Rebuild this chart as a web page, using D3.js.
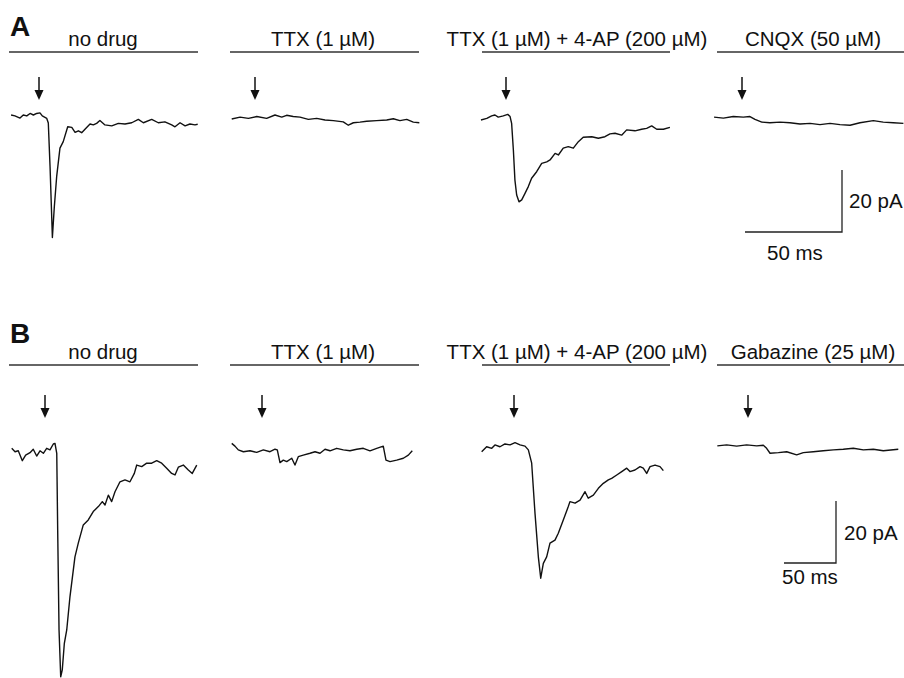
<!DOCTYPE html>
<html>
<head>
<meta charset="utf-8">
<script src="https://cdn.jsdelivr.net/npm/d3@7"></script>
<style>
  body { margin: 0; background: #fff; }
  text { font-family: "Liberation Sans", Arial, Helvetica, sans-serif; fill: #111; }
</style>
</head>
<body>
<svg id="fig" width="904" height="678"></svg>
<script>
// ---- data: time in ms from stimulus (arrow), current in pA ----
var rowLetters = ["A", "B"];
var drugsA = ["no drug", "TTX (1 µM)", "TTX (1 µM) + 4-AP (200 µM)", "CNQX (50 µM)"];
var drugsB = ["no drug", "TTX (1 µM)", "TTX (1 µM) + 4-AP (200 µM)", "Gabazine (25 µM)"];
var barMs = [50, 50];
var barPA = [20, 20];

var traceA1 = [[-14.4,0],[-12.4,-0.3],[-9.8,-1.0],[-8.1,0],[-6.3,-0.3],[-4.6,0.5],[-2.9,0],[-1.2,0.5],
  [0.5,0.7],[1.7,-0.3],[4.0,-1.1],[4.8,-2.6],[5.7,-16.7],[6.9,-39.5],[7.9,-29.6],[9.1,-19.9],
  [10.8,-10.7],[12.5,-8.6],[14.8,-3.8],[16.9,-4.0],[18.6,-5.6],[20.3,-5.1],[22.0,-5.7],[23.7,-4.6],
  [26.3,-2.9],[28.0,-3.2],[29.7,-2.7],[31.4,-1.8],[34.0,-3.2],[37.5,-3.5],[40.9,-2.7],[44.3,-2.9],
  [47.8,-2.5],[51.2,-1.4],[53.8,-2.5],[58.1,-1.4],[61.5,-2.5],[64.9,-2.2],[68.4,-3.2],[70.1,-3.8],
  [72.7,-2.5],[75.3,-3.5],[77.8,-2.9],[80.4,-3.2],[81.8,-3.0]];
var traceA2 = [[-12.0,-1.3],[-7.7,-0.7],[-3.4,-1.1],[0.9,-0.5],[6.0,-1.1],[10.3,0],[13.8,-0.7],[16.3,-0.1],
  [19.7,-0.5],[23.2,-0.7],[27.5,-1.4],[31.8,-1.1],[36.1,-1.6],[40.4,-1.8],[45.5,-2.2],[48.1,-3.3],
  [50.7,-2.5],[54.1,-2.3],[57.6,-2.0],[62.7,-1.8],[67.9,-1.6],[71.3,-1.2],[74.7,-1.8],[78.2,-1.4],
  [81.6,-2.3],[84.7,-2.5]];
var traceA3 = [[-12.9,-1.6],[-9.9,-1.1],[-7.4,-0.3],[-5.7,0],[-4.0,-0.7],[-1.4,-0.3],[0.9,0.2],[2.1,-0.5],
  [2.9,-2.7],[3.8,-11.3],[4.6,-21.0],[5.5,-25.8],[6.7,-28.0],[8.1,-27.4],[9.8,-25.3],[11.5,-23.1],
  [13.2,-20.4],[15.8,-18.3],[18.4,-15.6],[21.0,-15.1],[22.7,-14.5],[25.3,-12.4],[27.0,-12.9],[29.5,-10.7],
  [32.1,-10.2],[34.7,-10.7],[37.3,-8.6],[39.8,-7.2],[44.2,-7.0],[47.6,-7.5],[51.0,-7.0],[53.6,-6.1],
  [56.2,-5.9],[59.6,-6.5],[62.2,-4.8],[66.5,-5.1],[69.9,-4.6],[72.5,-4.3],[75.1,-3.5],[77.7,-4.6],
  [81.1,-4.6],[84.5,-4.0]];
var traceA4 = [[-14.4,-0.7],[-9.6,-1.0],[-4.5,-0.5],[0.7,-0.7],[4.1,-0.5],[6.7,-1.4],[10.2,-2.3],[14.4,-2.5],
  [19.6,-2.3],[24.7,-2.5],[29.9,-2.9],[35.1,-2.7],[40.2,-3.1],[45.4,-2.7],[50.5,-3.1],[55.7,-3.3],
  [60.8,-2.5],[67.7,-1.8],[72.8,-2.3],[78.0,-2.5],[83.2,-2.7]];

var traceB1 = [[-32.0,-0.1],[-28.8,-1.2],[-25.7,-0.9],[-21.8,-4.1],[-18.6,-2.3],[-14.4,-1.5],[-11.3,-0.4],
  [-8.0,-2.6],[-4.8,-0.9],[-1.6,-1.7],[1.6,-0.1],[4.8,-0.6],[8.0,1.3],[9.6,1.5],[11.3,-1.7],[12.2,-26.5],
  [13.5,-58.7],[15.1,-73.8],[16.6,-71.6],[18.6,-63.0],[20.9,-58.7],[24.0,-48.0],[28.8,-35.1],[32.0,-30.7],
  [36.8,-24.8],[41.6,-23.2],[46.4,-20.5],[51.3,-18.9],[55.1,-17.3],[57.7,-18.4],[60.9,-15.2],[64.1,-17.3],
  [67.3,-14.1],[72.1,-10.9],[76.9,-10.3],[81.7,-10.9],[85.9,-8.2],[88.2,-5.5],[93.0,-6.0],[97.8,-4.9],
  [102.6,-4.9],[107.4,-4.1],[112.2,-4.9],[117.0,-6.5],[121.8,-8.2],[125.0,-8.7],[128.2,-6.2],[133.0,-5.5],
  [137.8,-7.1],[141.6,-8.2],[145.9,-5.5]];
var traceB2 = [[-29.1,1.5],[-26.0,0.6],[-22.8,-0.6],[-17.9,-1.2],[-11.5,-0.9],[-5.1,-1.4],[1.3,-0.6],[7.7,-1.2],
  [12.5,-0.4],[14.7,-0.6],[17.3,-4.7],[20.5,-3.9],[23.8,-4.4],[28.6,-3.3],[31.7,-5.5],[34.9,-2.8],
  [39.7,-2.3],[46.2,-1.7],[51.0,-1.2],[55.8,-1.7],[60.6,-0.4],[65.4,-0.9],[71.8,-0.1],[78.2,-0.6],
  [84.6,-0.9],[91.1,-0.4],[97.4,-0.1],[103.8,-0.9],[110.3,-0.1],[116.6,0.6],[119.2,-3.9],[123.1,-4.4],
  [129.5,-3.9],[135.9,-3.3],[140.7,-2.3],[144.5,-0.9]];
var traceB3 = [[-31.1,-1.2],[-26.3,0.4],[-21.4,-0.1],[-18.3,1.0],[-13.5,0.4],[-8.7,1.3],[-3.8,1.0],[1.0,1.7],
  [5.8,1.0],[10.6,0.6],[13.8,-0.6],[17.0,-4.9],[20.2,-21.1],[23.4,-35.1],[25.7,-42.0],[28.2,-37.2],
  [31.4,-35.1],[34.6,-30.7],[39.4,-29.7],[42.6,-27.5],[47.4,-23.2],[52.2,-18.9],[53.8,-17.3],[58.7,-17.8],
  [63.5,-16.8],[68.3,-14.1],[71.4,-16.2],[76.3,-15.2],[81.1,-13.0],[85.9,-11.4],[90.7,-10.3],[93.9,-9.8],
  [98.8,-8.7],[103.6,-7.6],[108.4,-6.5],[111.5,-7.6],[116.3,-7.1],[121.2,-6.0],[124.3,-6.5],[127.6,-8.2],
  [130.8,-6.0],[135.6,-5.5],[140.4,-6.0],[143.6,-7.3]];
var traceB4 = [[-29.5,0.7],[-20.5,1.0],[-10.9,0.6],[-1.3,1.0],[8.4,0.7],[14.7,0.9],[17.9,-0.1],[21.2,-1.7],
  [29.2,-1.5],[37.2,-1.2],[46.8,-2.2],[53.2,-1.5],[62.8,-1.2],[72.4,-0.9],[82.1,-0.6],[91.6,-0.4],
  [101.3,-0.1],[110.9,-0.6],[120.5,-0.4],[130.1,-0.9],[144.5,-0.4]];

var tracesA = [traceA1, traceA2, traceA3, traceA4];
var tracesB = [traceB1, traceB2, traceB3, traceB4];

// ---- layout ----
var lineLeft  = [9, 230, 482, 717];
var lineRight = [198, 419, 670, 906];
var labelX    = [103, 323, 577, 813];
var rows = [
  { letterY: 36, labelY: 46, lineY: 52, arrowTop: 77, zeroY: 115, pxPerMs: 1.94,
    stimX: [39, 255, 506, 742], bar: [842, 232], msText: [767, 260], paText: [849, 208] },
  { letterY: 343, labelY: 359, lineY: 365, arrowTop: 395, zeroY: 448, pxPerMs: 1.04,
    stimX: [45, 262, 514, 748], bar: [836, 563], msText: [782, 584], paText: [844, 540] }
];
var pxPerPA = 3.1;
var drugs = [drugsA, drugsB];
var traces = [tracesA, tracesB];

var svg = d3.select("#fig");
svg.append("rect").attr("width", 904).attr("height", 678).attr("fill", "#fff");

rows.forEach(function(r, ri) {
  var g = svg.append("g").attr("class", "row-" + rowLetters[ri]);

  g.append("text")
    .attr("x", 10).attr("y", r.letterY)
    .attr("font-size", 28).attr("font-weight", "bold")
    .text(rowLetters[ri]);

  var y = d3.scaleLinear().domain([0, -20]).range([r.zeroY, r.zeroY + 20 * pxPerPA]);

  traces[ri].forEach(function(tr, pi) {
    var x = d3.scaleLinear().domain([0, 50]).range([r.stimX[pi], r.stimX[pi] + 50 * r.pxPerMs]);

    // drug bar + label
    g.append("line")
      .attr("x1", lineLeft[pi]).attr("x2", lineRight[pi])
      .attr("y1", r.lineY).attr("y2", r.lineY)
      .attr("stroke", "#333").attr("stroke-width", 1.3);
    g.append("text")
      .attr("x", labelX[pi]).attr("y", r.labelY)
      .attr("text-anchor", "middle").attr("font-size", 20.5)
      .text(drugs[ri][pi]);

    // stimulus arrow at t = 0
    var ax = x(0);
    g.append("line")
      .attr("x1", ax).attr("x2", ax)
      .attr("y1", r.arrowTop).attr("y2", r.arrowTop + 15)
      .attr("stroke", "#111").attr("stroke-width", 1.5);
    g.append("path")
      .attr("d", "M" + (ax - 4.5) + "," + (r.arrowTop + 13) + "L" + (ax + 4.5) + "," + (r.arrowTop + 13) +
                 "L" + ax + "," + (r.arrowTop + 23) + "Z")
      .attr("fill", "#111");

    // current trace
    var line = d3.line()
      .x(function(d) { return x(d[0]); })
      .y(function(d) { return y(d[1]); });
    g.append("path")
      .datum(tr)
      .attr("d", line)
      .attr("fill", "none")
      .attr("stroke", "#111")
      .attr("stroke-width", 1.4)
      .attr("stroke-linejoin", "round");
  });

  // scale bar
  var cx = r.bar[0], cy = r.bar[1];
  var bx = d3.scaleLinear().domain([0, barMs[ri]]).range([cx - barMs[ri] * r.pxPerMs, cx]);
  var by = d3.scaleLinear().domain([0, barPA[ri]]).range([cy, cy - barPA[ri] * pxPerPA]);
  g.append("path")
    .attr("d", "M" + bx(0) + "," + by(0) + "H" + bx(barMs[ri]) + "V" + by(barPA[ri]))
    .attr("fill", "none").attr("stroke", "#222").attr("stroke-width", 1.3);
  g.append("text")
    .attr("x", r.paText[0]).attr("y", r.paText[1]).attr("font-size", 20.5)
    .text(barPA[ri] + " pA");
  g.append("text")
    .attr("x", r.msText[0]).attr("y", r.msText[1]).attr("font-size", 20.5)
    .text(barMs[ri] + " ms");
});
</script>
</body>
</html>
